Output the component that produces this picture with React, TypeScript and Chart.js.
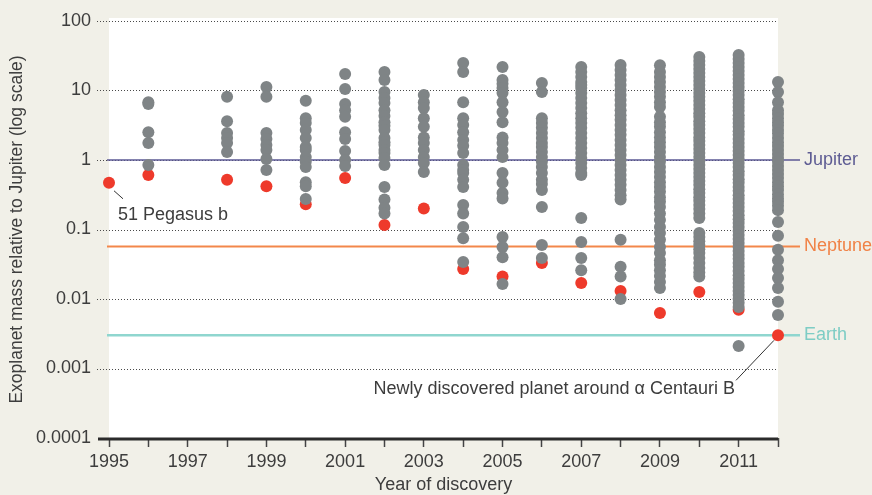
import React, { useEffect, useRef } from "react";
import { Chart, registerables } from "chart.js";

Chart.register(...registerables);

// ---- Data (mass in Jupiter masses) ----
const g1996 = [6.8, 6.4, 2.5, 1.76, 0.85];
const g1998 = [8.1, 3.6, 2.45, 2.07, 1.76, 1.3];
const g1999 = [11.2, 8.1, 2.45, 2.0, 1.64, 1.39, 1.03, 0.72];
const g2000 = [7.1, 4.0, 3.4, 2.7, 2.07, 1.54, 1.39, 1.1, 0.94, 0.79, 0.48, 0.42, 0.275];
const g2001 = [17.3, 10.5, 6.4, 5.2, 4.2, 2.5, 2.0, 1.35, 1.0, 0.82];
const g2002 = [18.5, 14.2, 9.5, 7.8, 6.6, 5.2, 4.3, 3.5, 3.1, 2.7, 2.07, 1.8, 1.64, 1.39, 1.26, 1.07, 0.85, 0.41, 0.27, 0.205, 0.17];
const g2003 = [8.6, 6.8, 5.6, 4.0, 3.0, 2.1, 1.76, 1.39, 1.1, 0.905, 0.67];
const g2004 = [24.9, 18.5, 6.8, 4.0, 3.2, 2.5, 1.94, 1.6, 1.26, 0.85, 0.72, 0.65, 0.52, 0.41, 0.225, 0.17, 0.109, 0.075, 0.034];
const g2005 = [21.8, 14.2, 12.5, 10.9, 9.2, 6.8, 4.9, 3.5, 2.1, 1.76, 1.39, 1.1, 0.65, 0.47, 0.335, 0.28, 0.078, 0.056, 0.04, 0.0165];
const g2006 = [12.8, 9.5, 4.0, 3.4, 2.9, 2.45, 2.07, 1.76, 1.54, 1.3, 1.1, 0.94, 0.79, 0.65, 0.52, 0.45, 0.37, 0.21, 0.06, 0.039];
const g2007 = [21.8, 18.5, 15.6, 13.3, 12.0, 10.9, 9.2, 7.8, 6.6, 5.6, 4.7, 4.0, 3.4, 2.9, 2.45, 2.07, 1.76, 1.49, 1.26, 1.07, 0.905, 0.77, 0.65, 0.61, 0.146, 0.066, 0.039, 0.026];
const g2008 = [23.3, 19.7, 16.7, 14.2, 12.0, 10.2, 8.6, 7.3, 6.2, 5.2, 4.4, 3.8, 3.2, 2.7, 2.3, 1.94, 1.64, 1.39, 1.18, 1.0, 0.85, 0.72, 0.61, 0.52, 0.44, 0.37, 0.31, 0.27, 0.071, 0.029, 0.021, 0.01];
const g2009 = [23.0, 18.5, 15.6, 13.3, 11.2, 9.5, 8.1, 6.8, 5.8, 4.2, 3.5, 3.0, 2.5, 2.1, 1.8, 1.54, 1.3, 1.1, 0.94, 0.79, 0.67, 0.57, 0.48, 0.41, 0.35, 0.29, 0.25, 0.21, 0.17, 0.137, 0.109, 0.089, 0.071, 0.056, 0.046, 0.036, 0.031, 0.026, 0.0215, 0.0176, 0.0144];
const g2010 = [30.3, 26.6, 23.3, 20.4, 17.9, 15.6, 13.7, 12.0, 10.5, 9.2, 8.1, 7.1, 6.2, 5.4, 4.7, 4.2, 3.6, 3.2, 2.8, 2.45, 2.1, 1.88, 1.64, 1.44, 1.26, 1.1, 0.97, 0.85, 0.74, 0.65, 0.57, 0.5, 0.44, 0.38, 0.335, 0.29, 0.26, 0.225, 0.197, 0.17, 0.146, 0.089, 0.078, 0.068, 0.06, 0.052, 0.046, 0.039, 0.033, 0.028, 0.024, 0.021];
const g2011 = [32.4, 28.4, 24.9, 21.8, 19.1, 16.7, 14.6, 12.8, 11.2, 9.8, 8.6, 7.5, 6.6, 5.8, 5.1, 4.4, 3.9, 3.4, 3.0, 2.6, 2.3, 2.0, 1.76, 1.54, 1.35, 1.18, 1.03, 0.905, 0.79, 0.69, 0.61, 0.53, 0.47, 0.41, 0.36, 0.31, 0.275, 0.24, 0.21, 0.185, 0.16, 0.14, 0.124, 0.109, 0.095, 0.083, 0.073, 0.064, 0.056, 0.049, 0.043, 0.038, 0.033, 0.029, 0.0253, 0.022, 0.0194, 0.017, 0.0149, 0.013, 0.0114, 0.01, 0.0088, 0.0077, 0.0021];
const g2012 = [13.3, 9.5, 6.8, 5.2, 4.6, 4.0, 3.5, 3.1, 2.7, 2.4, 2.07, 1.8, 1.59, 1.39, 1.22, 1.07, 0.94, 0.82, 0.72, 0.63, 0.55, 0.48, 0.42, 0.37, 0.32, 0.28, 0.25, 0.22, 0.19, 0.128, 0.081, 0.051, 0.036, 0.027, 0.02, 0.0144, 0.0091, 0.0059];

const grayYears = [1996, 1998, 1999, 2000, 2001, 2002, 2003, 2004, 2005, 2006, 2007, 2008, 2009, 2010, 2011, 2012];
const grayMasses = [g1996, g1998, g1999, g2000, g2001, g2002, g2003, g2004, g2005, g2006, g2007, g2008, g2009, g2010, g2011, g2012];

// Smallest planet discovered each year
const redYears = [1995, 1996, 1998, 1999, 2000, 2001, 2002, 2003, 2004, 2005, 2006, 2007, 2008, 2009, 2010, 2011, 2012];
const redMasses = [0.47, 0.61, 0.52, 0.42, 0.23, 0.55, 0.116, 0.2, 0.027, 0.021, 0.033, 0.017, 0.013, 0.0063, 0.0126, 0.007, 0.003];

const yTickValues = [0.0001, 0.001, 0.01, 0.1, 1, 10, 100];
const yTickLabels = ["0.0001", "0.001", "0.01", "0.1", "1", "10", "100"];

const refNames = ["Jupiter", "Neptune", "Earth"];
const refMasses = [1, 0.057, 0.003];

const annotationTexts = ["51 Pegasus b", "Newly discovered planet around \u03b1 Centauri B"];
const annotationYears = [1995, 2012];
const annotationMasses = [0.47, 0.003];

const xTitle = "Year of discovery";
const yTitle = "Exoplanet mass relative to Jupiter (log scale)";

// ---- Styles ----
const FONT = "'Liberation Sans', Arial, sans-serif";
const TEXT = "#3d3d3d";
const GRAY = "#7f8486";
const RED = "#ee3a2b";
const refColors = ["#5b5994", "#f3874b", "#8fd6cf"];
const refLabelColors = ["#5e5c93", "#f08246", "#7ecdc5"];
const refWidths = [1.5, 2, 2.5];

export default function App() {
  const ref = useRef<HTMLCanvasElement>(null);

  useEffect(() => {
    document.body.style.margin = "0";
    const canvas = ref.current!;
    const grayData: { x: number; y: number }[] = [];
    grayYears.forEach((yr, i) => grayMasses[i].forEach((m) => grayData.push({ x: yr, y: m })));
    const redData = redYears.map((yr, i) => ({ x: yr, y: redMasses[i] }));

    const decor = {
      id: "decor",
      beforeDraw(chart: any) {
        const { ctx, chartArea: a, width, height } = chart;
        ctx.save();
        ctx.fillStyle = "#f1f0e8";
        ctx.fillRect(0, 0, width, height);
        ctx.fillStyle = "#ffffff";
        ctx.fillRect(a.left, a.top - 3, a.right - a.left, a.bottom - a.top + 3);
        ctx.restore();
      },
      beforeDatasetsDraw(chart: any) {
        const { ctx, chartArea: a, scales } = chart;
        const ys = scales.y;
        ctx.save();
        // dotted grid lines
        ctx.strokeStyle = "#4a4a4a";
        ctx.lineWidth = 1;
        ctx.setLineDash([1, 2]);
        yTickValues.forEach((v, i) => {
          if (i === 0) return;
          const py = Math.round(ys.getPixelForValue(v)) + 0.5;
          ctx.beginPath();
          ctx.moveTo(a.left - 12, py);
          ctx.lineTo(a.right, py);
          ctx.stroke();
        });
        ctx.setLineDash([]);
        // reference lines
        refMasses.forEach((m, i) => {
          const py = ys.getPixelForValue(m);
          ctx.strokeStyle = refColors[i];
          ctx.lineWidth = refWidths[i];
          ctx.beginPath();
          ctx.moveTo(a.left - 2, py);
          ctx.lineTo(a.right + 22, py);
          ctx.stroke();
          ctx.fillStyle = refLabelColors[i];
          ctx.font = `18px ${FONT}`;
          ctx.textAlign = "left";
          ctx.textBaseline = "middle";
          ctx.fillText(refNames[i], a.right + 26, py);
        });
        // x axis line
        ctx.strokeStyle = "#2b2b2b";
        ctx.lineWidth = 3;
        ctx.beginPath();
        ctx.moveTo(a.left - 11, a.bottom + 1);
        ctx.lineTo(a.right, a.bottom + 1);
        ctx.stroke();
        ctx.restore();
      },
      afterDatasetsDraw(chart: any) {
        const { ctx, scales } = chart;
        ctx.save();
        ctx.font = `18px ${FONT}`;
        ctx.fillStyle = TEXT;
        ctx.strokeStyle = "#333";
        ctx.lineWidth = 1;
        ctx.textBaseline = "middle";
        // 51 Pegasus b
        let px = scales.x.getPixelForValue(annotationYears[0]);
        let py = scales.y.getPixelForValue(annotationMasses[0]);
        ctx.beginPath();
        ctx.moveTo(px + 5, py + 8);
        ctx.lineTo(px + 14, py + 16);
        ctx.stroke();
        ctx.textAlign = "left";
        ctx.fillText(annotationTexts[0], px + 9, py + 32);
        // alpha Centauri B b
        px = scales.x.getPixelForValue(annotationYears[1]);
        py = scales.y.getPixelForValue(annotationMasses[1]);
        ctx.beginPath();
        ctx.moveTo(px - 4, py + 5);
        ctx.lineTo(px - 42, py + 45);
        ctx.stroke();
        ctx.textAlign = "right";
        ctx.fillText(annotationTexts[1], px - 43, py + 54);
        ctx.restore();
      },
    };

    const chart = new Chart(canvas, {
      type: "scatter",
      data: {
        datasets: [
          {
            data: grayData,
            backgroundColor: GRAY,
            borderWidth: 0,
            pointRadius: 6,
            pointHoverRadius: 6,
            clip: false,
          } as any,
          {
            data: redData,
            backgroundColor: RED,
            borderWidth: 0,
            pointRadius: 6,
            pointHoverRadius: 6,
            clip: false,
          } as any,
        ],
      },
      options: {
        animation: false,
        responsive: false,
        devicePixelRatio: 1,
        events: [],
        layout: { padding: { top: 21, right: 94, bottom: 0, left: 0 } },
        plugins: { legend: { display: false }, tooltip: { enabled: false } },
        scales: {
          x: {
            type: "linear",
            position: "bottom",
            min: 1995,
            max: 2012,
            afterFit: (s: any) => {
              s.height = 57;
            },
            ticks: {
              stepSize: 1,
              autoSkip: false,
              maxRotation: 0,
              padding: 4,
              color: TEXT,
              font: { family: FONT, size: 18 },
              callback: (v: any) => (Number(v) % 2 === 1 ? String(v) : ""),
            },
            grid: {
              display: true,
              drawOnChartArea: false,
              drawTicks: true,
              tickLength: 9,
              tickColor: "#444",
              tickWidth: 1.5,
            } as any,
            border: { display: false },
            title: {
              display: true,
              text: xTitle,
              color: TEXT,
              font: { family: FONT, size: 18, lineHeight: 1.1 },
              padding: { top: 0, bottom: 0 },
            },
          },
          y: {
            type: "logarithmic",
            position: "left",
            min: 0.0001,
            max: 100,
            afterBuildTicks: (s: any) => {
              s.ticks = yTickValues.map((v) => ({ value: v }));
            },
            afterFit: (s: any) => {
              s.width = 109;
            },
            ticks: {
              padding: 0,
              color: TEXT,
              font: { family: FONT, size: 18 },
              callback: (v: any) => {
                const i = yTickValues.findIndex((t) => Math.abs(t - Number(v)) < t * 1e-6);
                return i >= 0 ? yTickLabels[i] : "";
              },
            },
            grid: {
              display: true,
              drawOnChartArea: false,
              drawTicks: true,
              tickLength: 18,
              tickColor: "rgba(0,0,0,0)",
            } as any,
            border: { display: false },
            title: {
              display: true,
              text: yTitle,
              color: TEXT,
              font: { family: FONT, size: 17.5 },
              padding: { top: 7, bottom: 0 },
            },
          },
        },
      },
      plugins: [decor],
    } as any);

    return () => chart.destroy();
  }, []);

  return (
    <div style={{ position: "absolute", left: 0, top: 0, width: 872, height: 495 }}>
      <canvas ref={ref} width={872} height={495} style={{ display: "block" }} />
    </div>
  );
}
